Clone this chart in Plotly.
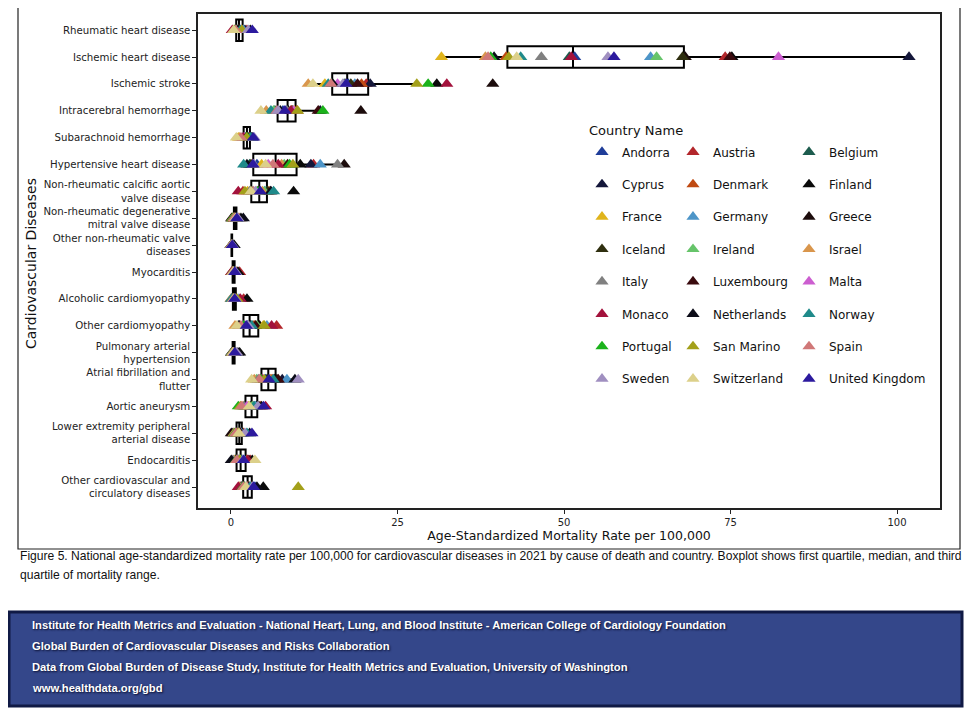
import plotly.graph_objects as go

countries = ["Andorra", "Austria", "Belgium", "Cyprus", "Denmark", "Finland", "France",
             "Germany", "Greece", "Iceland", "Ireland", "Israel", "Italy", "Luxembourg",
             "Malta", "Monaco", "Netherlands", "Norway", "Portugal", "San Marino", "Spain",
             "Sweden", "Switzerland", "United Kingdom"]

colors = ["#1f3d99", "#b3262b", "#1d5c4e", "#14173a", "#c04a12", "#0a0a0a", "#e0b41c",
          "#4d95c8", "#1c0c0c", "#2f2f0f", "#66c46a", "#d9964c", "#808080", "#3a0a0e",
          "#cc5ed0", "#a3123c", "#0c0c18", "#1f8a8a", "#1bb21b", "#a3a01a", "#d07878",
          "#a08fc0", "#dcd08a", "#2c1a9e"]

categories = ["Rheumatic heart disease", "Ischemic heart disease", "Ischemic stroke",
              "Intracerebral hemorrhage", "Subarachnoid hemorrhage", "Hypertensive heart disease",
              "Non-rheumatic calcific aortic<br>valve disease",
              "Non-rheumatic degenerative<br>mitral valve disease",
              "Other non-rheumatic valve<br>diseases", "Myocarditis", "Alcoholic cardiomyopathy",
              "Other cardiomyopathy", "Pulmonary arterial<br>hypertension",
              "Atrial fibrillation and<br>flutter", "Aortic aneurysm",
              "Lower extremity peripheral<br>arterial disease", "Endocarditis",
              "Other cardiovascular and<br>circulatory diseases"]

# values per disease, in the order of `countries`
rheumatic = [1.3, 2.4, 1.1, 2.1, 1.15, 2.9, 1.6, 1.85, 0.75, 0.9, 1.0, 0.5, 0.82, 1.25, 1.5, 0.2, 1.05, 1.4, 0.6, 1.65, 0.7, 2.6, 0.4, 3.2]
ischemic_heart = [51.6, 74.2, 50.8, 101.8, 41.3, 75.2, 31.6, 63.0, 68.2, 67.8, 63.9, 38.2, 46.6, 74.9, 82.2, 51.1, 39.5, 43.5, 39.0, 41.7, 38.6, 56.6, 42.9, 57.5]
ischemic_stroke = [17.6, 20.3, 17.0, 20.9, 19.6, 30.9, 14.1, 18.6, 39.3, 18.0, 15.1, 11.6, 17.2, 19.0, 16.0, 32.4, 15.3, 14.6, 29.6, 27.9, 15.0, 16.8, 12.3, 17.3]
intracerebral = [7.8, 9.9, 6.6, 13.4, 9.1, 8.6, 9.5, 8.3, 19.5, 9.2, 6.4, 5.3, 8.4, 13.1, 9.4, 9.0, 7.4, 6.0, 13.8, 10.0, 6.9, 7.1, 4.5, 8.1]
subarachnoid = [3.1, 2.75, 2.2, 3.0, 2.7, 3.2, 1.1, 2.6, 1.95, 2.5, 2.1, 1.3, 1.7, 2.55, 2.0, 1.85, 2.3, 2.95, 2.45, 2.35, 1.5, 3.5, 0.8, 3.35]
hypertensive = [3.9, 12.4, 2.8, 12.0, 3.2, 10.4, 4.6, 13.4, 17.0, 3.0, 8.0, 7.6, 16.0, 8.5, 5.6, 7.1, 2.4, 1.9, 8.8, 9.3, 6.3, 3.4, 5.2, 3.3]
calcific_aortic = [4.3, 1.8, 5.3, 5.9, 5.7, 9.4, 2.5, 5.1, 3.1, 5.5, 5.0, 4.7, 2.8, 4.2, 3.9, 1.1, 6.0, 6.4, 4.0, 2.1, 3.4, 3.7, 3.0, 4.4]
degenerative_mitral = [0.68, 0.62, 0.74, 0.2, 1.2, 1.5, 0.35, 0.78, 0.1, 0.57, 0.58, 0.25, 0.46, 0.65, 0.52, 0.5, 1.85, 0.95, 0.3, 0.55, 0.42, 1.05, 0.7, 0.86]
other_valve = [0.14, 0.11, 0.16, 0.02, 0.3, 0.38, 0.105, 0.17, 0.03, 0.115, 0.125, 0.04, 0.07, 0.13, 0.085, 0.1, 0.48, 0.2, 0.05, 0.09, 0.06, 0.24, 0.15, 0.185]
myocarditis = [0.39, 1.3, 0.46, 0.19, 0.85, 1.05, 0.34, 0.48, 0.16, 0.41, 0.44, 0.13, 0.21, 0.5, 0.28, 0.1, 0.53, 0.62, 0.24, 0.31, 0.255, 0.7, 0.37, 0.56]
alcoholic_cm = [0.6, 1.9, 0.05, 0.15, 0.67, 2.4, 0.31, 1.2, 0.2, 0.46, 0.5, 0.02, 0.27, 0.79, 0.37, 1.4, 0.42, 0.1, 0.4, 0.9, 0.34, 0.63, 0.44, 0.55]
other_cm = [2.5, 6.85, 3.3, 1.1, 3.5, 4.3, 4.85, 5.4, 1.3, 2.7, 3.9, 0.6, 1.8, 3.7, 2.1, 6.1, 2.9, 3.1, 1.95, 5.0, 1.5, 2.6, 0.9, 2.3]
pulmonary_ah = [0.44, 0.48, 0.46, 0.1, 0.7, 1.3, 0.255, 0.5, 0.13, 0.39, 0.41, 0.16, 0.21, 0.53, 0.28, 0.37, 1.05, 0.62, 0.19, 0.31, 0.24, 0.85, 0.34, 0.56]
atrial_fib = [5.2, 6.0, 5.4, 7.7, 6.2, 6.5, 5.85, 8.4, 6.9, 5.5, 3.85, 3.5, 4.1, 7.1, 4.8, 4.65, 9.6, 6.35, 4.5, 5.0, 4.3, 10.1, 3.1, 5.7]
aortic_aneurysm = [2.9, 3.3, 3.6, 2.25, 4.4, 3.85, 2.6, 3.7, 2.1, 3.0, 3.2, 1.8, 1.95, 4.2, 2.4, 5.2, 4.6, 3.45, 1.1, 1.4, 1.6, 4.05, 2.75, 4.9]
lower_pad = [1.35, 1.5, 1.45, 0.3, 1.9, 1.7, 1.1, 1.55, 0.05, 1.0, 1.3, 0.45, 0.8, 1.4, 0.87, 1.15, 2.8, 2.4, 0.6, 0.95, 0.7, 2.1, 1.2, 3.15]
endocarditis = [1.5, 2.9, 1.6, 0.65, 2.4, 3.2, 1.4, 2.0, 0.75, 1.1, 1.2, 0.5, 0.3, 2.7, 1.0, 2.5, 0.05, 1.7, 0.82, 1.3, 0.86, 1.8, 3.6, 1.9]
other_cv = [3.6, 2.75, 2.55, 1.5, 3.05, 4.85, 2.45, 2.95, 1.6, 2.0, 2.1, 1.3, 1.7, 2.65, 2.35, 1.1, 3.9, 2.85, 1.8, 10.1, 1.87, 3.2, 2.25, 3.4]

disease_values = [rheumatic, ischemic_heart, ischemic_stroke, intracerebral, subarachnoid,
                  hypertensive, calcific_aortic, degenerative_mitral, other_valve, myocarditis,
                  alcoholic_cm, other_cm, pulmonary_ah, atrial_fib, aortic_aneurysm, lower_pad,
                  endocarditis, other_cv]

x_ticks = [0, 25, 50, 75, 100]

caption_1 = ("Figure 5. National age-standardized mortality rate per 100,000 for cardiovascular diseases "
             "in 2021 by cause of death and country. Boxplot shows first quartile, median, and third")
caption_2 = "quartile of mortality range."
footer_lines = [
    "Institute for Health Metrics and Evaluation - National Heart, Lung, and Blood Institute - American College of Cardiology Foundation",
    "Global Burden of Cardiovascular Diseases and Risks Collaboration",
    "Data from Global Burden of Disease Study, Institute for Health Metrics and Evaluation, University of Washington",
    "www.healthdata.org/gbd",
]

# page has an 8px body margin; figure is sized so it fits in the 974x715 window
W, H = 966, 707
L, R, T, B = 190, 34, 6, 207
PW, PH = W - L - R, H - T - B


def px(xr):
    # reference-page x pixel -> paper coordinate
    return (xr - 8 - L) / PW


def py(yr):
    # reference-page y pixel -> paper coordinate
    return (H - B - (yr - 8)) / PH


FONT = "DejaVu Sans"
CAP_FONT = "Liberation Sans, Arial, sans-serif"

fig = go.Figure()

box_x, box_y = [], []
for cat, vals in zip(categories, disease_values):
    box_x += vals
    box_y += [cat] * len(vals)

fig.add_trace(go.Box(
    x=box_x, y=box_y, orientation="h", quartilemethod="linear",
    boxpoints="outliers", marker=dict(opacity=0, size=1),
    line=dict(color="black", width=2), fillcolor="rgba(0,0,0,0)",
    whiskerwidth=0, width=0.8, showlegend=False, hoverinfo="skip",
))

legend_ids = ["legend", "legend2", "legend3"]
for i, c in enumerate(countries):
    fig.add_trace(go.Scatter(
        x=[vals[i] for vals in disease_values], y=categories, mode="markers",
        marker=dict(symbol="triangle-up", size=11.5, color=colors[i], line=dict(width=0)),
        name=c, legendgroup=c, legend=legend_ids[i % 3],
    ))

leg_common = dict(font=dict(family=FONT, size=12, color="#111"), bgcolor="rgba(0,0,0,0)",
                  tracegroupgap=13.4, xanchor="left", yanchor="top", itemclick=False)
leg_y = py(137.5)

shapes = [
    dict(type="rect", xref="paper", yref="paper", x0=px(18), x1=px(960), y0=py(549), y1=py(3),
         line=dict(color="#222", width=1.2), fillcolor="rgba(0,0,0,0)", layer="below"),
    dict(type="rect", xref="paper", yref="paper", x0=px(9), x1=px(962), y0=py(706), y1=py(612),
         line=dict(color="#101a45", width=3), fillcolor="#34478a", layer="below"),
]

annotations = [
    dict(text="Country Name", x=px(587), y=py(131), xref="paper", yref="paper",
         xanchor="left", yanchor="middle", showarrow=False,
         font=dict(family=FONT, size=13, color="#111")),
    dict(text="Cardiovascular Diseases", x=px(31), y=py(264), xref="paper", yref="paper",
         xanchor="center", yanchor="middle", textangle=-90, showarrow=False,
         font=dict(family=FONT, size=14, color="#111")),
    dict(text=caption_1, x=px(18), y=py(556), xref="paper", yref="paper",
         xanchor="left", yanchor="middle", showarrow=False,
         font=dict(family=CAP_FONT, size=12.1, color="#111")),
    dict(text=caption_2, x=px(18), y=py(575), xref="paper", yref="paper",
         xanchor="left", yanchor="middle", showarrow=False,
         font=dict(family=CAP_FONT, size=12.1, color="#111")),
]
for k, line in enumerate(footer_lines):
    annotations.append(dict(
        text="<b>" + line + "</b>", x=px(30), y=py(625 + 21 * k), xref="paper", yref="paper",
        xanchor="left", yanchor="middle", showarrow=False,
        font=dict(family=CAP_FONT, size=11.2, color="white", shadow="1px 1px 2px #0a0f30"),
    ))

fig.update_layout(
    width=W, height=H,
    margin=dict(l=L, r=R, t=T, b=B, autoexpand=False),
    paper_bgcolor="white", plot_bgcolor="white",
    font=dict(family=FONT, color="#111"),
    legend=dict(x=px(582), y=leg_y, **leg_common),
    legend2=dict(x=px(673), y=leg_y, **leg_common),
    legend3=dict(x=px(789), y=leg_y, **leg_common),
    shapes=shapes, annotations=annotations,
    xaxis=dict(range=[-4.95, 106.45], tickvals=x_ticks, ticks="outside", ticklen=4,
               tickcolor="#222", showgrid=False, zeroline=False, showline=True, mirror=True,
               linecolor="#222", linewidth=1.5,
               tickfont=dict(family=FONT, size=10, color="#222"),
               title=dict(text="Age-Standardized Mortality Rate per 100,000",
                          font=dict(family=FONT, size=12.5, color="#111"), standoff=0)),
    yaxis=dict(type="category", categoryorder="array", categoryarray=categories,
               range=[17.78, -0.6], ticks="outside", ticklen=4, tickcolor="#222",
               showgrid=False, zeroline=False, showline=True, mirror=True,
               linecolor="#222", linewidth=1.5,
               tickfont=dict(family=FONT, size=10.2, color="#222")),
)

fig.write_html("out.html")
